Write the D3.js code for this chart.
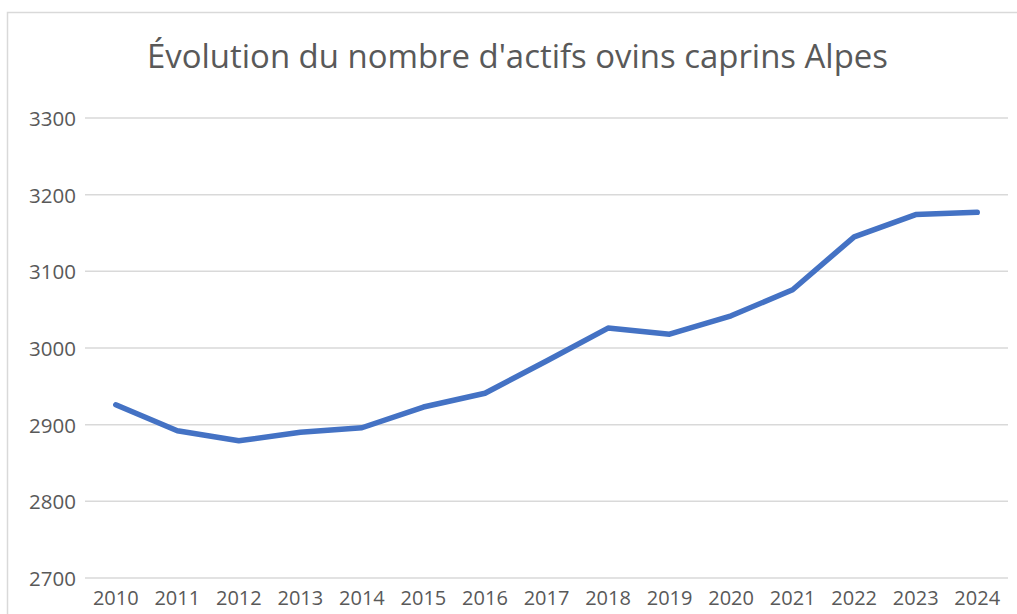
<!DOCTYPE html>
<html>
<head>
<meta charset="utf-8">
<script src="https://cdn.jsdelivr.net/npm/d3@7"></script>
<style>
html,body{margin:0;padding:0;background:#fff;}
svg{display:block;}
</style>
</head>
<body>
<svg id="chart" width="1017" height="614"></svg>
<script>
const years = ["2010","2011","2012","2013","2014","2015","2016","2017","2018","2019","2020","2021","2022","2023","2024"];
const actifs = [2926, 2892, 2879, 2890, 2896, 2923, 2941, 2983, 3026, 3018, 3042, 3076, 3145, 3174, 3177];
const yTicks = [2700, 2800, 2900, 3000, 3100, 3200, 3300];
const title = "Évolution du nombre d'actifs ovins caprins Alpes";

const svg = d3.select("#chart");
const font = "'Open Sans', sans-serif";
const textColor = "#595959";

// chart border
svg.append("rect")
  .attr("x", 7.5).attr("y", 12.5)
  .attr("width", 1020).attr("height", 620)
  .attr("fill", "#fff").attr("stroke", "#D9D9D9").attr("stroke-width", 1.5);

const x = d3.scaleBand().domain(years).range([85, 1008]);
const y = d3.scaleLinear().domain([2700, 3300]).range([578, 118]);

// gridlines
svg.append("g").selectAll("line").data(yTicks).join("line")
  .attr("x1", 85).attr("x2", 1008)
  .attr("y1", d => y(d)).attr("y2", d => y(d))
  .attr("stroke", "#D9D9D9").attr("stroke-width", 1.5);

// y axis
const yAxis = svg.append("g").attr("transform", "translate(76,0)")
  .call(d3.axisLeft(y).tickValues(yTicks).tickSize(0).tickPadding(0).tickFormat(d3.format("d")));
yAxis.select(".domain").remove();
yAxis.selectAll("text").attr("font-family", font).attr("font-size", 20.5)
  .attr("fill", textColor).attr("dy", "0.36em");

// x axis
const xAxis = svg.append("g").attr("transform", "translate(0,578)")
  .call(d3.axisBottom(x).tickSize(0).tickPadding(0));
xAxis.select(".domain").remove();
xAxis.selectAll("text").attr("font-family", font).attr("font-size", 20)
  .attr("fill", textColor).attr("dy", null).attr("y", 27);

// line
const line = d3.line().x((d, i) => x(years[i]) + x.bandwidth() / 2).y(d => y(d));
svg.append("path").datum(actifs)
  .attr("d", line)
  .attr("fill", "none").attr("stroke", "#4472C4")
  .attr("stroke-width", 5.5).attr("stroke-linejoin", "round").attr("stroke-linecap", "round");

// title
const t = svg.append("text")
  .attr("x", 517.5).attr("y", 68)
  .attr("text-anchor", "middle")
  .attr("font-family", font).attr("font-size", 30)
  .attr("fill", textColor)
  .text(title);
const w = t.node().getComputedTextLength();
t.attr("font-size", 30 * 741 / w);
</script>
</body>
</html>
